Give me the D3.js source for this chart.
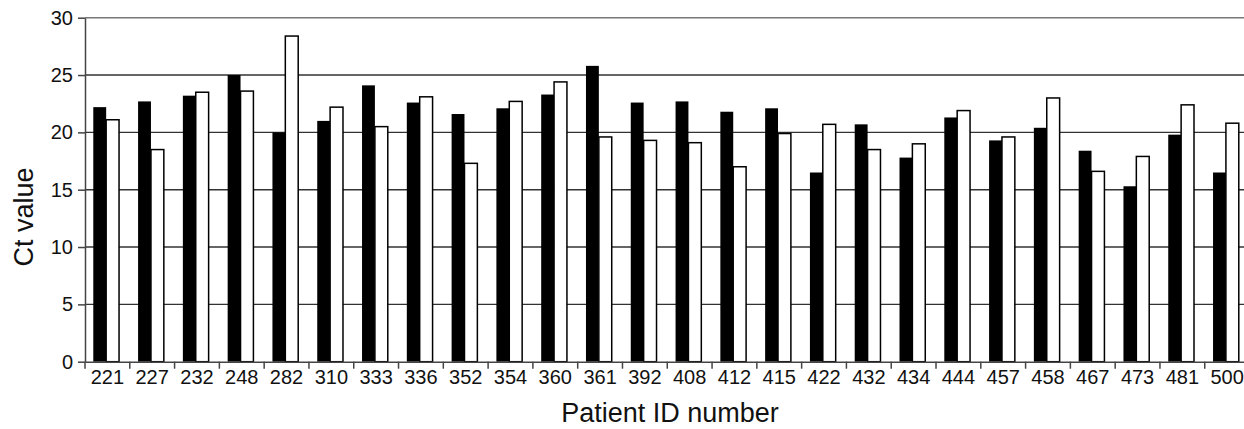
<!DOCTYPE html>
<html>
<head>
<meta charset="utf-8">
<script src="https://cdn.jsdelivr.net/npm/d3@7"></script>
<style>
  body { margin: 0; background: #fff; }
  text { font-family: "Liberation Sans", Arial, sans-serif; fill: #111; }
</style>
</head>
<body>
<div id="chart"></div>
<script>
// patient IDs on the x axis
var patients = ["221","227","232","248","282","310","333","336","352","354","360","361","392",
                "408","412","415","422","432","434","444","457","458","467","473","481","500"];
// black bars
var ctBlack = [22.2,22.7,23.2,25.0,20.0,21.0,24.1,22.6,21.6,22.1,23.3,25.8,22.6,
               22.7,21.8,22.1,16.5,20.7,17.8,21.3,19.3,20.4,18.4,15.3,19.8,16.5];
// white bars
var ctWhite = [21.1,18.5,23.5,23.6,28.4,22.2,20.5,23.1,17.3,22.7,24.4,19.6,19.3,
               19.1,17.0,19.9,20.7,18.5,19.0,21.9,19.6,23.0,16.6,17.9,22.4,20.8];
var yTicks = [0,5,10,15,20,25,30];

var rows = patients.map(function(p, i){
  return {id: p, values: [{key: "black", v: ctBlack[i]}, {key: "white", v: ctWhite[i]}]};
});

var W = 1244, H = 429;
var margin = {top: 17.7, left: 85},
    plotBottom = 361.7,
    step = 44.79;

var svg = d3.select("#chart").append("svg")
    .attr("width", W).attr("height", H);

var x = d3.scaleBand()
    .domain(patients)
    .range([margin.left, margin.left + step * patients.length])
    .padding(0);

var x1 = d3.scaleBand()
    .domain(["black","white"])
    .range([step * 0.185, step * 0.76]);

var y = d3.scaleLinear()
    .domain([0, 30])
    .range([plotBottom, margin.top]);

// horizontal gridlines (behind the bars)
svg.append("g")
  .selectAll("line")
  .data(yTicks.filter(function(d){ return d > 0; }))
  .enter().append("line")
    .attr("x1", margin.left)
    .attr("x2", W)
    .attr("y1", function(d){ return y(d); })
    .attr("y2", function(d){ return y(d); })
    .attr("stroke", function(d){ return d === 30 ? "#777" : "#333"; })
    .attr("stroke-width", 1.4);

// bars
var groups = svg.append("g")
  .selectAll("g")
  .data(rows)
  .enter().append("g")
    .attr("transform", function(d){ return "translate(" + x(d.id) + ",0)"; });

groups.selectAll("rect")
  .data(function(d){ return d.values; })
  .enter().append("rect")
    .attr("x", function(d){ return x1(d.key); })
    .attr("width", x1.bandwidth())
    .attr("y", function(d){ return y(d.v); })
    .attr("height", function(d){ return plotBottom - y(d.v); })
    .attr("fill", function(d){ return d.key === "black" ? "#000" : "#fff"; })
    .attr("stroke", "#000")
    .attr("stroke-width", function(d){ return d.key === "black" ? 0 : 1.5; });

// y axis
var yAxis = svg.append("g")
    .attr("transform", "translate(" + margin.left + ",0)")
    .call(d3.axisLeft(y).tickValues(yTicks).tickSize(7).tickSizeOuter(0).tickPadding(5));
yAxis.select(".domain").attr("stroke", "#444").attr("stroke-width", 1.5);
yAxis.selectAll(".tick line").attr("stroke", "#444").attr("stroke-width", 1.5);
yAxis.selectAll("text").attr("font-size", "20px").attr("fill", "#111")
    .attr("font-family", "Liberation Sans, Arial, sans-serif");

// x axis: labels centred in each band, ticks on band edges
var xAxis = svg.append("g")
    .attr("transform", "translate(0," + plotBottom + ")")
    .call(d3.axisBottom(x).tickSize(0).tickSizeOuter(0).tickPadding(8));
xAxis.select(".domain").attr("stroke", "#444").attr("stroke-width", 1.5);
xAxis.selectAll("text").attr("font-size", "20px").attr("fill", "#111")
    .attr("font-family", "Liberation Sans, Arial, sans-serif");

svg.append("g")
  .selectAll("line")
  .data(patients)
  .enter().append("line")
    .attr("x1", function(d){ return x(d); })
    .attr("x2", function(d){ return x(d); })
    .attr("y1", plotBottom)
    .attr("y2", plotBottom + 7)
    .attr("stroke", "#444")
    .attr("stroke-width", 1.5);

// axis titles
svg.append("text")
    .attr("x", 670)
    .attr("y", 422)
    .attr("text-anchor", "middle")
    .attr("font-size", "27px")
    .text("Patient ID number");

svg.append("text")
    .attr("transform", "translate(33,217) rotate(-90)")
    .attr("text-anchor", "middle")
    .attr("font-size", "27px")
    .text("Ct value");
</script>
</body>
</html>
